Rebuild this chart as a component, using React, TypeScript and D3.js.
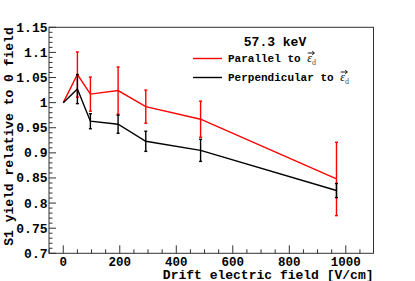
import React from "react";
import * as d3 from "d3";

const fieldValues = [0, 50, 96, 194, 292, 486, 967];
const parallelYield = [1.0, 1.056, 1.017, 1.024, 0.992, 0.967, 0.848];
const parallelErr = [0, 0.045, 0.034, 0.047, 0.033, 0.036, 0.073];
const perpYield = [1.0, 1.027, 0.963, 0.957, 0.923, 0.905, 0.825];
const perpErr = [0, 0.029, 0.015, 0.018, 0.02, 0.022, 0.014];

const xTicks = [0, 200, 400, 600, 800, 1000];
const yTicks = [0.7, 0.75, 0.8, 0.85, 0.9, 0.95, 1, 1.05, 1.1, 1.15];
const yTickLabels = ["0.7", "0.75", "0.8", "0.85", "0.9", "0.95", "1", "1.05", "1.1", "1.15"];

const W = 415;
const H = 281;
const FONT = "Liberation Mono, Cousine, DejaVu Sans Mono, Courier New, monospace";
const mono = { fontFamily: FONT, fontWeight: 700 } as React.CSSProperties;

export default function App() {
    const left = 49, right = 373.5, top = 27.3, bottom = 253.3;

    const x = d3.scaleLinear().domain([-50.5, 1098]).range([left, right]);
    const y = d3.scaleLinear().domain([0.7, 1.15]).range([bottom, top]);

    const line = d3.line<number>()
        .x((_, i) => x(fieldValues[i]))
        .y(d => y(d));

    const xMinor = d3.range(-50, 1100, 50).filter(v => v % 200 !== 0);
    const yMinor = d3.range(70, 116, 1).map(v => v / 100).filter(v => Math.round(v * 100) % 5 !== 0);

    const series = [
        { vals: parallelYield, errs: parallelErr, color: "#ff0000" },
        { vals: perpYield, errs: perpErr, color: "#000000" },
    ];

    const legend = [
        { label: "Parallel to ", color: "#ff0000", yPos: 58.5, chars: 12 },
        { label: "Perpendicular to ", color: "#000000", yPos: 77.5, chars: 17 },
    ];

    return (
        <svg width={W} height={H} style={{ position: "absolute", left: 0, top: 0, background: "#fff" }}>
            <rect width={W} height={H} fill="#fff" />

            {/* frame */}
            <rect x={left} y={top} width={right - left} height={bottom - top}
                fill="none" stroke="#333" strokeWidth={1} />

            {/* x ticks */}
            {xTicks.map(t => (
                <line key={"xt" + t} x1={x(t)} x2={x(t)} y1={bottom} y2={bottom - 8} stroke="#333" />
            ))}
            {xMinor.map(t => (
                <line key={"xm" + t} x1={x(t)} x2={x(t)} y1={bottom} y2={bottom - 4} stroke="#333" />
            ))}
            {xTicks.map(t => (
                <text key={"xl" + t} x={x(t)} y={265.5} textAnchor="middle"
                    style={{ ...mono, fontSize: 12.5 }}>{t}</text>
            ))}

            {/* y ticks */}
            {yTicks.map(t => (
                <line key={"yt" + t} x1={left} x2={left + 7} y1={y(t)} y2={y(t)} stroke="#333" />
            ))}
            {yMinor.map(t => (
                <line key={"ym" + t} x1={left} x2={left + 3.5} y1={y(t)} y2={y(t)} stroke="#333" />
            ))}
            {yTicks.map((t, i) => (
                <text key={"yl" + t} x={47.5} y={y(t) + 4.5} textAnchor="end"
                    style={{ ...mono, fontSize: 13 }}>{yTickLabels[i]}</text>
            ))}

            {/* axis titles */}
            <text x={right} y={278.5} textAnchor="end" style={{ ...mono, fontSize: 13 }}>
                Drift electric field [V/cm]
            </text>
            <text transform={`translate(12.5, ${top}) rotate(-90)`} textAnchor="end"
                style={{ ...mono, fontSize: 13 }}>
                S1 yield relative to 0 field
            </text>

            {/* data */}
            {series.map((s, si) => (
                <g key={"s" + si}>
                    <path d={line(s.vals) || ""} fill="none" stroke={s.color} strokeWidth={1.4} />
                    {s.vals.map((v, i) => s.errs[i] > 0 && (
                        <g key={i} stroke={s.color} strokeWidth={1.4}>
                            <line x1={x(fieldValues[i])} x2={x(fieldValues[i])}
                                y1={y(v - s.errs[i])} y2={y(v + s.errs[i])} />
                            <line x1={x(fieldValues[i]) - 1.5} x2={x(fieldValues[i]) + 1.5}
                                y1={y(v - s.errs[i])} y2={y(v - s.errs[i])} />
                            <line x1={x(fieldValues[i]) - 1.5} x2={x(fieldValues[i]) + 1.5}
                                y1={y(v + s.errs[i])} y2={y(v + s.errs[i])} />
                        </g>
                    ))}
                </g>
            ))}

            {/* legend */}
            <text x={275} y={45.5} textAnchor="middle" style={{ ...mono, fontSize: 13 }}>
                57.3 keV
            </text>
            {legend.map(l => {
                const ex = 228 + l.chars * 6.6;
                return (
                    <g key={l.label}>
                        <line x1={193} x2={222} y1={l.yPos} y2={l.yPos} stroke={l.color} strokeWidth={1.4} />
                        <text x={228} y={l.yPos + 3.5} style={{ ...mono, fontSize: 11 }}>
                            {l.label}
                            <tspan style={{ fontFamily: "Liberation Serif, serif", fontStyle: "italic", fontWeight: 400, fontSize: 12 }}>ε</tspan>
                            <tspan dy={2.5} style={{ fontFamily: "Liberation Serif, serif", fontWeight: 400, fontSize: 8, fill: "#555" }}>d</tspan>
                        </text>
                        <path d={`M${ex + 0.5},${l.yPos - 5.5} L${ex + 7},${l.yPos - 5.5} M${ex + 5},${l.yPos - 7.3} L${ex + 7.2},${l.yPos - 5.5} L${ex + 5},${l.yPos - 3.7}`}
                            fill="none" stroke="#000" strokeWidth={0.9} />
                    </g>
                );
            })}
        </svg>
    );
}
